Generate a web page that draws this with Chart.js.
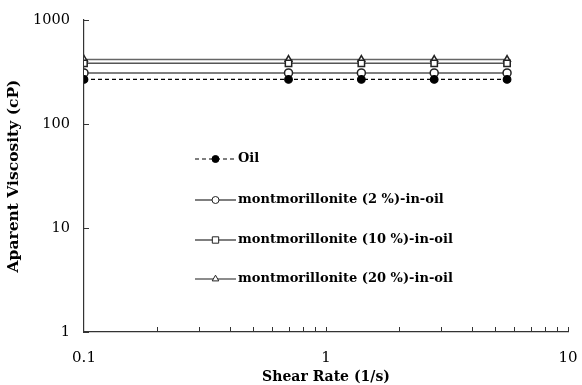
<!DOCTYPE html>
<html><head><meta charset="utf-8">
<script src="https://cdn.jsdelivr.net/npm/chart.js@4"></script>
<style>html,body{margin:0;padding:0;background:#fff}#wrap{width:582px;height:385px}</style>
</head><body><div id="wrap"><canvas id="c" width="582" height="385"></canvas></div>
<script>
const shearRate = [0.1, 0.7, 1.4, 2.8, 5.6];
const oil = [268, 268, 268, 268, 268];
const mont2 = [310, 310, 310, 310, 310];
const mont10 = [383, 383, 383, 383, 383];
const mont20 = [418, 418, 418, 418, 418];
const seriesNames = ['Oil', 'montmorillonite (2 %)-in-oil', 'montmorillonite (10 %)-in-oil', 'montmorillonite (20 %)-in-oil'];
const xTickValues = [0.1, 1, 10];
const xMinorTicks = [0.2,0.3,0.4,0.5,0.6,0.7,0.8,0.9,1,2,3,4,5,6,7,8,9,10];
const yTickValues = [1, 10, 100, 1000];
const xTitle = 'Shear Rate (1/s)';
const yTitle = 'Aparent Viscosity (cP)';

const FONT = "'DejaVu Serif', 'Liberation Serif', serif";
const toXY = arr => arr.map((v, i) => ({x: shearRate[i], y: v}));

const tickPlugin = {
  id: 'inwardTicks',
  afterDraw(chart) {
    const ctx = chart.ctx, xs = chart.scales.x, ys = chart.scales.y, a = chart.chartArea;
    ctx.save();
    ctx.strokeStyle = '#333'; ctx.lineWidth = 1;
    ctx.beginPath();
    xMinorTicks.forEach(v => {
      const px = Math.round(xs.getPixelForValue(v)) + 0.5;
      ctx.moveTo(px, a.bottom); ctx.lineTo(px, a.bottom - 5);
    });
    yTickValues.forEach(v => {
      const py = Math.round(ys.getPixelForValue(v)) + 0.5;
      ctx.moveTo(a.left, py); ctx.lineTo(a.left + 5, py);
    });
    ctx.stroke();
    ctx.restore();
  }
};

const legendPlugin = {
  id: 'innerLegend',
  afterDraw(chart) {
    const ctx = chart.ctx;
    const x0 = 195, x1 = 236, tx = 238;
    const rows = [159, 200, 240, 279];
    ctx.save();
    chart.data.datasets.forEach((ds, i) => {
      const y = rows[i];
      ctx.strokeStyle = ds.borderColor; ctx.lineWidth = ds.borderWidth;
      ctx.setLineDash(ds.borderDash || []);
      ctx.beginPath(); ctx.moveTo(x0, y); ctx.lineTo(x1, y); ctx.stroke();
      ctx.setLineDash([]);
      ctx.fillStyle = ds.pointBackgroundColor; ctx.strokeStyle = ds.pointBorderColor; ctx.lineWidth = 1;
      Chart.helpers.drawPoint(ctx, {pointStyle: ds.pointStyle, radius: ds.legendRadius, borderWidth: 1}, (x0 + x1) / 2, y);
      ctx.fillStyle = '#000';
      ctx.font = 'bold 13px ' + FONT;
      ctx.textBaseline = 'middle';
      ctx.fillText(ds.label, tx, y);
    });
    ctx.restore();
  }
};

new Chart(document.getElementById('c'), {
  type: 'line',
  data: {
    datasets: [
      {label: seriesNames[0], data: toXY(oil), borderColor: '#000', borderWidth: 1.2, borderDash: [4, 3],
       pointStyle: 'circle', pointRadius: 3.8, legendRadius: 3.5, pointBackgroundColor: '#000', pointBorderColor: '#000'},
      {label: seriesNames[1], data: toXY(mont2), borderColor: '#555', borderWidth: 1.5,
       pointStyle: 'circle', pointRadius: 4, legendRadius: 3.5, pointBackgroundColor: '#fff', pointBorderColor: '#222'},
      {label: seriesNames[2], data: toXY(mont10), borderColor: '#555', borderWidth: 1.5,
       pointStyle: 'rect', pointRadius: 4.5, legendRadius: 4.5, pointBackgroundColor: '#fff', pointBorderColor: '#222'},
      {label: seriesNames[3], data: toXY(mont20), borderColor: '#666', borderWidth: 1.5,
       pointStyle: 'triangle', pointRadius: 3.8, legendRadius: 3.8, pointBackgroundColor: '#fff', pointBorderColor: '#222'}
    ]
  },
  options: {
    responsive: false, animation: false, devicePixelRatio: 1,
    layout: {padding: {top: 20, right: 14, left: 0, bottom: 0}},
    plugins: {legend: {display: false}, tooltip: {enabled: false}},
    elements: {line: {tension: 0}, point: {borderWidth: 1}},
    scales: {
      x: {
        type: 'logarithmic', min: 0.1, max: 10,
        afterBuildTicks: s => { s.ticks = xTickValues.map(v => ({value: v})); },
        afterFit: s => { s.height = 53; s.paddingLeft = 0; s.paddingRight = 0; },
        grid: {display: false, drawTicks: false},
        border: {display: true, color: '#333', width: 1.2},
        ticks: {color: '#000', font: {family: FONT, size: 15}, padding: 17, maxRotation: 0, autoSkip: false,
                callback: v => String(v)},
        title: {display: true, text: xTitle, color: '#000', font: {family: FONT, size: 14, weight: 'bold'}, padding: {top: 0, bottom: -1}}
      },
      y: {
        type: 'logarithmic', min: 1, max: 1000,
        afterBuildTicks: s => { s.ticks = yTickValues.map(v => ({value: v})); },
        afterFit: s => { s.width = 84; s.paddingTop = 0; s.paddingBottom = 0; },
        grid: {display: false, drawTicks: false},
        border: {display: true, color: '#333', width: 1.2},
        ticks: {color: '#000', font: {family: FONT, size: 14.5}, padding: 14, autoSkip: false,
                callback: v => String(v)},
        title: {display: true, text: yTitle, color: '#000', font: {family: FONT, size: 15.5, weight: 'bold'}, padding: {top: 5, bottom: 0}}
      }
    }
  },
  plugins: [tickPlugin, legendPlugin]
});
</script>
</body></html>
